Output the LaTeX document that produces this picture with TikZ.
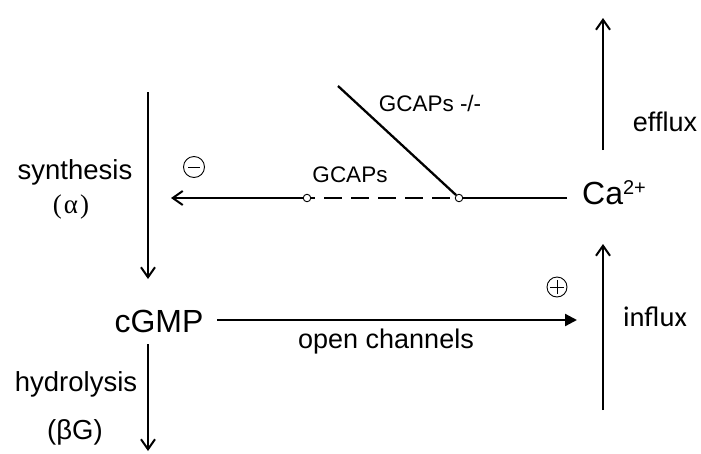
\documentclass[tikz,border=0pt]{standalone}
\usepackage{fontspec}
\setmainfont{Liberation Sans}
\newfontfamily\serifgr{Liberation Serif}
\newfontfamily\carlito{Carlito}
\usetikzlibrary{arrows.meta}
\begin{document}
\begin{tikzpicture}[x=1pt,y=-1pt,
  lbl/.style={inner sep=0pt, font=\fontsize{27.5}{30}\selectfont},
  biglbl/.style={inner sep=0pt, font=\fontsize{32}{36}\selectfont},
  smalllbl/.style={inner sep=0pt, font=\fontsize{22.5}{26}\selectfont},
  conn/.style={line width=2.3pt},
  arr/.style={line width=2.3pt, -{Straight Barb[length=10pt,width=14pt,line width=2pt]}},
  farr/.style={line width=2.3pt, -{Triangle[length=12pt,width=12pt]}},
  dashconn/.style={line width=2.8pt, dash pattern=on 18pt off 9pt, dash phase=-5pt},
  dot/.style={circle, draw, fill=white, inner sep=0pt, minimum size=7.5pt, line width=0.9pt},
  signnode/.style={circle, draw, inner sep=0pt, minimum size=20pt, line width=0.9pt},
]
\useasboundingbox (0,0) rectangle (701,453);

% text nodes
\node[biglbl] (cgmp) at (159,321) {cGMP};
\node[biglbl, anchor=base west, inner sep=0pt] (ca) at (582,204) {Ca\raisebox{10pt}{\fontsize{20}{20}\selectfont 2+}};
\node[lbl] (synth) at (75,172) {synthesis};
\node[lbl, font=\fontsize{27}{30}\serifgr] (alpha) at (71,207) {(\hspace{2pt}α\hspace{2pt})};
\node[lbl] (hydro) at (76,384) {hydrolysis};
\node[lbl] (beta) at (75,432) {(βG)};
\node[lbl, font=\fontsize{27}{30}\selectfont] (open) at (386,342) {open channels};
\node[lbl, font=\fontsize{28.5}{30}\carlito] (influx) at (655,317) {influx};
\node[lbl, font=\fontsize{27}{30}\selectfont] (efflux) at (665,122) {efflux};
\node[smalllbl] (gcaps) at (350,175) {GCAPs};
\node[smalllbl] (gcapsko) at (430,103) {GCAPs -/-};

% sign nodes
\node[signnode, minimum size=21pt, path picture={\draw[line width=0.9pt] ([xshift=-6pt]path picture bounding box.center) -- ([xshift=6pt]path picture bounding box.center);}] (minus) at (194,167) {};
\node[signnode, path picture={\draw[line width=0.9pt] ([xshift=-7pt]path picture bounding box.center) -- ([xshift=7pt]path picture bounding box.center) ([yshift=-7pt]path picture bounding box.center) -- ([yshift=7pt]path picture bounding box.center);}] (plus) at (557,287) {};

% coordinates
\coordinate (s1) at (148,92);
\coordinate (s2) at (148,279);
\coordinate (h1) at (148,344);
\coordinate (h2) at (148,451);
\coordinate (o1) at (217,320);
\coordinate (o2) at (577,320);
\coordinate (i1) at (603,410);
\coordinate (i2) at (603,244);
\coordinate (e1) at (603,150);
\coordinate (e2) at (603,18);
\coordinate (caend) at (567,198);
\coordinate (tip) at (171,198);
\coordinate (ko) at (338,86);

% connectors
\draw[arr] (s1) -- (s2);
\draw[arr] (h1) -- (h2);
\draw[farr] (o1) -- (o2);
\draw[arr] (i1) -- (i2);
\draw[arr] (e1) -- (e2);

\node[dot] (c2) at (459,198) {};
\node[dot] (c1) at (307,198) {};
\draw[conn] (caend) -- (c2.east);
\draw[dashconn] (c2.west) -- (c1.east);
\draw[arr] (c1.west) -- (tip);
\draw[conn] (ko) -- (c2.north west);
\end{tikzpicture}
\end{document}
